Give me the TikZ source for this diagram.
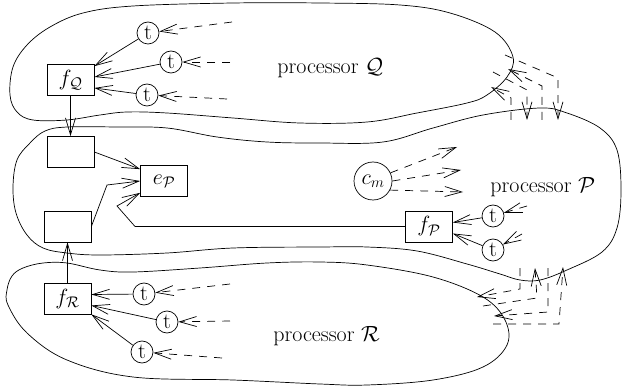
\RequirePackage{fix-cm}
\documentclass[tikz,border=0pt]{standalone}
\usetikzlibrary{arrows.meta,calc}
\begin{document}
\begin{tikzpicture}[x=1pt,y=-1pt,
  every node/.style={font=\fontsize{22}{26}\selectfont},
  line width=0.7pt,
  >={Straight Barb[length=17pt,width=10pt]},
  box/.style={draw,rectangle,minimum width=47pt,minimum height=31pt,inner sep=0pt},
  tnode/.style={draw,circle,minimum size=22pt,inner sep=0pt},
  dsh/.style={dash pattern=on 8pt off 7pt},
  proc/.style={line width=0.7pt}]
\useasboundingbox (0,0) rectangle (623,387);

% processor outlines
\draw[proc] plot[smooth cycle, tension=0.6] coordinates {(10,95) (13,67) (27,45) (50,27) (83,13) (133,6) (233,3) (320,3) (400,5) (450,13) (495,32) (513,57) (507,77) (487,95) (467,103) (417,113) (367,122) (300,123) (233,118) (167,113) (127,112) (100,115) (67,120) (33,120) (17,112)};
\draw[proc] plot[smooth cycle, tension=0.6] coordinates {(13,187) (17,160) (30,143) (45,131) (67,127) (117,127) (167,128) (217,137) (267,142) (320,143) (383,142) (433,128) (483,115) (540,108) (567,113) (600,128) (617,150) (621,190) (617,228) (602,252) (567,270) (540,280) (520,280) (500,274) (467,264) (417,251) (367,247) (320,247) (233,248) (167,253) (100,255) (67,253) (43,248) (27,235) (16,213)};
\draw[proc] plot[smooth cycle, tension=0.6] coordinates {(7,290) (12,276) (23,268) (43,263) (67,263) (100,270) (133,272) (200,268) (267,263) (320,262) (367,265) (433,277) (483,297) (505,320) (507,345) (483,367) (433,380) (367,385) (320,384) (233,380) (133,377) (67,360) (27,333) (8,305)};

% labels
\node[anchor=base west,inner sep=0pt] (lq) at (277,74) {processor $\mathcal{Q}$};
\node[anchor=base west,inner sep=0pt] (lp) at (490,193) {processor $\mathcal{P}$};
\node[anchor=base west,inner sep=0pt] (lr) at (273,341) {processor $\mathcal{R}$};

% nodes
\node[box] (fQ) at (70.5,80) {$f_{\mathcal{Q}}$};
\node[box] (b1) at (70.5,152) {};
\node[box] (b2) at (67.5,226.5) {};
\node[box] (eP) at (164,181) {$e_{\mathcal{P}}$};
\node[box] (fP) at (429,226.5) {$f_{\mathcal{P}}$};
\node[box] (fR) at (67.5,298.5) {$f_{\mathcal{R}}$};
\node[draw,circle,minimum size=38pt,inner sep=0pt] (cm) at (373,181) {$c_m$};

\node[tnode] (tq1) at (148,33) {t};
\node[tnode] (tq2) at (171,62) {t};
\node[tnode] (tq3) at (147,95) {t};
\node[tnode] (tp1) at (493,216) {t};
\node[tnode] (tp2) at (493,250) {t};
\node[tnode] (tr1) at (144,294) {t};
\node[tnode] (tr2) at (167,322) {t};
\node[tnode] (tr3) at (142,352) {t};

% free ends
\coordinate (dq1) at (232,22);
\coordinate (dq2) at (230,62);
\coordinate (dq3) at (227,99);
\coordinate (dr1) at (230,284);
\coordinate (dr2) at (230,321);
\coordinate (dr3) at (222,358);
\coordinate (dp1) at (527,206);
\coordinate (dp2) at (522,234);
\coordinate (ca) at (457,147);
\coordinate (cb) at (461,170);
\coordinate (cc) at (463,192);

% t inputs (dashed)
\draw[dsh,->] (dq1) -- (tq1);
\draw[dsh,->] (dq2) -- (tq2);
\draw[dsh,->] (dq3) -- (tq3);
\draw[dsh,->] (dr1) -- (tr1);
\draw[dsh,->] (dr2) -- (tr2);
\draw[dsh,->] (dr3) -- (tr3);
\draw[dsh,->] (dp1) -- (tp1);
\draw[dsh,->] (dp2) -- (tp2);

% t to f
\draw[->] (tq1) -- ($(fQ.north east)+(0,2)$);
\draw[->] (tq2) -- ($(fQ.east)+(0,-3)$);
\draw[->] (tq3) -- ($(fQ.east)+(0,8)$);
\draw[->] (tr1) -- ($(fR.east)+(0,-4)$);
\draw[->] (tr2) -- ($(fR.east)+(0,7)$);
\draw[->] (tr3) -- (fR.south east);
\draw[->] (tp1) -- ($(fP.east)+(0,-4)$);
\draw[->] (tp2) -- ($(fP.east)+(0,7)$);

% inner flow
\draw[->] (fQ.south) -- (b1.north);
\draw[->] (fR.north) -- (b2.south);
\draw[->] (b1.east) -- ($(eP.north west)+(0,4)$);
\draw[->] (b2.east) -- (107,185) -- (eP.west);
\draw[->] (fP.west) -- (135,226.5) -- (117,206) -- ($(eP.south west)+(0,-4)$);

% c_m outputs
\draw[dsh,->] (cm.25) -- (ca);
\draw[dsh,->] (cm.east) -- (cb);
\draw[dsh,->] (cm.-28) -- (cc);

% Q <-> P
\coordinate (qa) at (505,55);
\coordinate (qb) at (493,72);
\coordinate (pa) at (542,120);
\coordinate (pb) at (511,120);
\coordinate (xa) at (558,120);
\coordinate (xb) at (527,120);
\coordinate (ya) at (508,69);
\coordinate (yb) at (491,87);
\draw[dsh,->] (qa) -- (558,78) -- (xa);
\draw[dsh,->] (qb) -- (527,90) -- (xb);
\draw[dsh,->] (pa) -- (542,86) -- (ya);
\draw[dsh,->] (pb) -- (511,98) -- (yb);

% P <-> R
\coordinate (pc) at (520,268);
\coordinate (pd) at (548,268);
\coordinate (rc) at (477,297);
\coordinate (rd) at (494,316);
\coordinate (re) at (483,306);
\coordinate (rf) at (493,324);
\coordinate (pe) at (535,268);
\coordinate (pf) at (563,267);
\draw[dsh,->] (pc) -- (520,289) -- (rc);
\draw[dsh,->] (pd) -- (548,312) -- (rd);
\draw[dsh,->] (re) -- (537,298) -- (pe);
\draw[dsh,->] (rf) -- (559,324) -- (pf);
\end{tikzpicture}
\end{document}
